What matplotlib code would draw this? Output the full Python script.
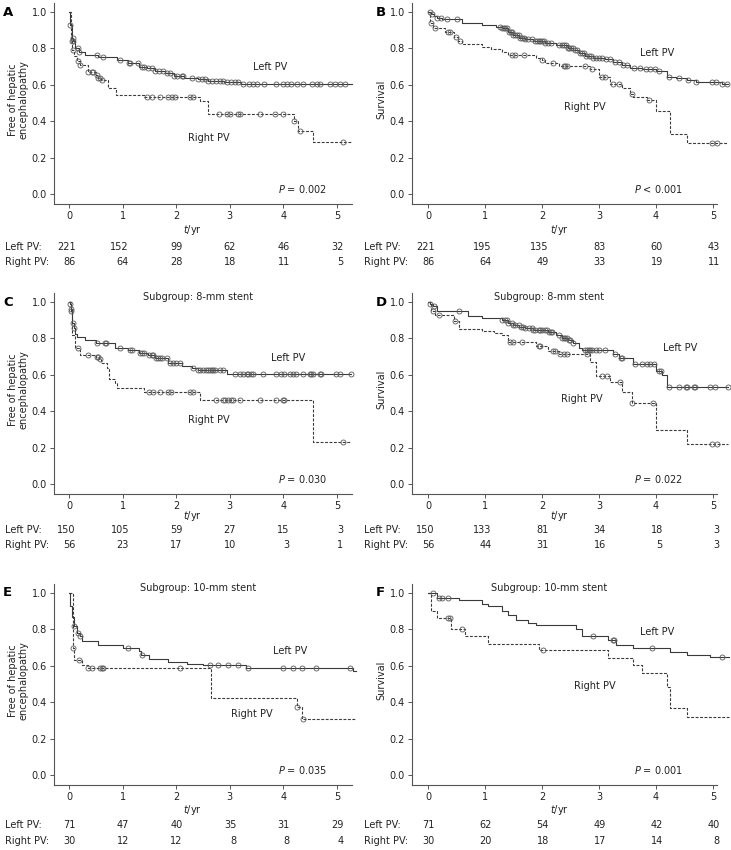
import numpy as np
import matplotlib
matplotlib.use("Agg")
import matplotlib.pyplot as plt
from matplotlib.transforms import blended_transform_factory

W, H = 731, 850
plt.rcParams["font.family"] = "DejaVu Sans"
plt.rcParams["font.size"] = 7
plt.rcParams["mathtext.fontset"] = "dejavusans"

# ---- Kaplan-Meier curves: step times (yr), survival values, censor times, last follow-up ----
# A: free of hepatic encephalopathy, all patients
A_left_t = [0, 0.01, 0.02, 0.05, 0.08, 0.12, 0.18, 0.3, 0.55, 0.9, 1.1, 1.3, 1.45, 1.6, 1.8, 1.95, 2.15, 2.4, 2.6, 2.9, 3.2]
A_left_s = [1.0, 0.97, 0.93, 0.86, 0.84, 0.80, 0.78, 0.766, 0.755, 0.738, 0.72, 0.70, 0.69, 0.675, 0.665, 0.65, 0.64, 0.633, 0.623, 0.615, 0.604]
A_left_c = [0.02, 0.07, 0.08, 0.16, 0.19, 0.52, 0.64, 0.95, 1.11, 1.14, 1.29, 1.36, 1.39, 1.48, 1.54, 1.6, 1.67, 1.76,
            1.82, 1.88, 1.95, 2.01, 2.1, 2.13, 2.29, 2.41, 2.48, 2.54, 2.6, 2.66, 2.75, 2.82, 2.88, 2.94, 3.03, 3.1,
            3.16, 3.25, 3.35, 3.44, 3.5, 3.63, 3.87, 4.0, 4.06, 4.15, 4.25, 4.37, 4.53, 4.62, 4.68, 4.87, 4.96, 5.06, 5.15]
A_left_end = 5.28
A_right_t = [0, 0.03, 0.06, 0.1, 0.15, 0.2, 0.35, 0.5, 0.55, 0.6, 0.72, 0.88, 1.4, 2.45, 2.6, 4.2, 4.28, 4.55]
A_right_s = [1.0, 0.84, 0.79, 0.756, 0.73, 0.707, 0.668, 0.656, 0.637, 0.628, 0.582, 0.546, 0.531, 0.509, 0.44, 0.40, 0.344, 0.286]
A_right_c = [0.05, 0.07, 0.17, 0.2, 0.36, 0.42, 0.45, 0.52, 0.55, 0.58, 0.61, 1.45, 1.54, 1.7, 1.85, 1.92, 1.98, 2.26,
             2.32, 2.79, 2.94, 3.0, 3.16, 3.19, 3.56, 3.84, 4.0, 4.2, 4.31, 5.12]
A_right_end = 5.28

# B: survival, all patients
B_left_t = [0, 0.06, 0.1, 0.16, 0.25, 0.6, 0.95, 1.2, 1.3, 1.4, 1.5, 1.6, 1.7, 1.85, 2.05, 2.25, 2.45, 2.55, 2.65,
            2.75, 2.9, 3.1, 3.25, 3.4, 3.55, 3.75, 4.0, 4.2, 4.35, 4.55, 4.7, 5.15]
B_left_s = [1.0, 0.99, 0.98, 0.97, 0.96, 0.94, 0.93, 0.92, 0.91, 0.89, 0.875, 0.86, 0.85, 0.84, 0.83, 0.82, 0.80, 0.79,
            0.775, 0.76, 0.75, 0.74, 0.725, 0.71, 0.695, 0.685, 0.675, 0.645, 0.635, 0.625, 0.615, 0.605]
B_left_c = [0.04, 0.07, 0.16, 0.22, 0.33, 0.51, 1.27, 1.3, 1.33, 1.36, 1.39, 1.42, 1.45, 1.48, 1.5, 1.53, 1.56, 1.59,
            1.62, 1.65, 1.68, 1.71, 1.76, 1.82, 1.88, 1.91, 1.94, 1.97, 2.0, 2.03, 2.06, 2.1, 2.15, 2.3, 2.35, 2.38,
            2.42, 2.45, 2.48, 2.51, 2.54, 2.58, 2.62, 2.66, 2.7, 2.74, 2.78, 2.82, 2.86, 2.9, 2.95, 3.0, 3.05, 3.12,
            3.2, 3.28, 3.35, 3.42, 3.5, 3.62, 3.72, 3.82, 3.9, 3.98, 4.05, 4.22, 4.4, 4.57, 4.7, 4.98, 5.05, 5.16, 5.25]
B_left_end = 5.26
B_right_t = [0, 0.03, 0.08, 0.3, 0.45, 0.52, 0.6, 0.95, 1.1, 1.3, 1.4, 1.9, 2.0, 2.05, 2.3, 2.85, 3.0, 3.2, 3.4,
             3.55, 3.6, 3.85, 4.0, 4.25, 4.55]
B_right_s = [1.0, 0.94, 0.915, 0.89, 0.865, 0.84, 0.825, 0.81, 0.795, 0.78, 0.765, 0.75, 0.735, 0.72, 0.705, 0.685,
             0.645, 0.605, 0.58, 0.55, 0.535, 0.515, 0.455, 0.33, 0.28]
B_right_c = [0.05, 0.12, 0.36, 0.39, 0.5, 0.57, 1.47, 1.53, 1.68, 2.0, 2.2, 2.38, 2.41, 2.44, 2.76, 2.88, 3.05, 3.1,
             3.25, 3.35, 3.58, 3.87, 4.98, 5.07]
B_right_end = 5.27

# C: free of HE, 8-mm stent
C_left_t = [0, 0.01, 0.03, 0.06, 0.09, 0.11, 0.15, 0.3, 0.5, 0.85, 1.1, 1.3, 1.48, 1.6, 1.85, 2.1, 2.3, 2.4, 2.95]
C_left_s = [1.0, 0.99, 0.96, 0.885, 0.86, 0.825, 0.81, 0.79, 0.775, 0.75, 0.735, 0.72, 0.71, 0.69, 0.665, 0.646,
            0.637, 0.625, 0.605]
C_left_c = [0.01, 0.03, 0.07, 0.09, 0.52, 0.67, 0.69, 0.95, 1.14, 1.17, 1.32, 1.36, 1.39, 1.5, 1.54, 1.57, 1.63, 1.66,
            1.7, 1.73, 1.82, 1.88, 1.94, 2.0, 2.07, 2.32, 2.41, 2.44, 2.5, 2.56, 2.6, 2.63, 2.66, 2.69, 2.72, 2.81,
            2.88, 3.09, 3.19, 3.25, 3.32, 3.34, 3.4, 3.43, 3.62, 3.87, 3.96, 4.02, 4.12, 4.18, 4.24, 4.37, 4.49,
            4.52, 4.55, 4.68, 4.71, 4.99, 5.05, 5.27]
C_left_end = 5.27
C_right_t = [0, 0.03, 0.06, 0.12, 0.2, 0.5, 0.56, 0.6, 0.7, 0.75, 0.85, 0.9, 1.4, 2.45, 4.55]
C_right_s = [1.0, 0.95, 0.82, 0.75, 0.71, 0.70, 0.685, 0.665, 0.637, 0.576, 0.554, 0.527, 0.505, 0.462, 0.232]
C_right_c = [0.03, 0.17, 0.36, 0.52, 0.55, 0.58, 1.5, 1.57, 1.7, 1.85, 1.91, 2.25, 2.32, 2.75, 2.87, 2.91, 2.97,
             3.03, 3.06, 3.19, 3.56, 3.87, 3.99, 4.02, 5.11]
C_right_end = 5.27

# D: survival, 8-mm stent
D_left_t = [0, 0.03, 0.08, 0.15, 0.7, 0.95, 1.3, 1.4, 1.5, 1.6, 1.7, 1.85, 2.1, 2.25, 2.35, 2.45, 2.55, 2.65, 2.7,
            3.25, 3.35, 3.6, 4.0, 4.1, 4.2]
D_left_s = [1.0, 0.99, 0.98, 0.95, 0.925, 0.91, 0.90, 0.885, 0.875, 0.865, 0.855, 0.845, 0.835, 0.82, 0.805, 0.79,
            0.775, 0.75, 0.735, 0.714, 0.69, 0.661, 0.623, 0.60, 0.532]
D_left_c = [0.04, 0.1, 0.54, 1.3, 1.35, 1.38, 1.41, 1.47, 1.5, 1.53, 1.59, 1.64, 1.67, 1.71, 1.77, 1.82, 1.85, 1.88,
            1.94, 1.97, 2.0, 2.06, 2.09, 2.12, 2.15, 2.18, 2.29, 2.35, 2.38, 2.41, 2.44, 2.47, 2.5, 2.55, 2.76, 2.79,
            2.82, 2.85, 2.88, 2.94, 3.0, 3.11, 3.28, 3.38, 3.41, 3.64, 3.76, 3.84, 3.9, 3.96, 4.05, 4.08, 4.22, 4.4,
            4.52, 4.54, 4.66, 4.69, 4.95, 5.04, 5.27]
D_left_end = 5.27
D_right_t = [0, 0.05, 0.12, 0.45, 0.55, 0.95, 1.15, 1.3, 1.4, 1.9, 2.1, 2.3, 2.85, 2.95, 3.2, 3.4, 3.58, 4.0, 4.55]
D_right_s = [1.0, 0.95, 0.927, 0.894, 0.854, 0.84, 0.832, 0.818, 0.78, 0.76, 0.732, 0.714, 0.672, 0.596, 0.56,
             0.505, 0.446, 0.295, 0.219]
D_right_c = [0.08, 0.19, 0.48, 1.44, 1.5, 1.65, 1.94, 1.97, 2.2, 2.23, 2.32, 2.38, 2.44, 2.79, 3.05, 3.14, 3.37,
             3.58, 3.95, 4.98, 5.07]
D_right_end = 5.27

# E: free of HE, 10-mm stent
E_left_t = [0, 0.02, 0.05, 0.1, 0.15, 0.2, 0.25, 0.55, 1.0, 1.3, 1.35, 1.5, 1.85, 2.2, 2.5, 3.3, 5.3]
E_left_s = [1.0, 0.93, 0.87, 0.82, 0.78, 0.765, 0.735, 0.713, 0.70, 0.68, 0.662, 0.64, 0.622, 0.609, 0.605, 0.59, 0.57]
E_left_c = [0.1, 0.17, 0.2, 1.1, 1.36, 2.63, 2.78, 2.97, 3.16, 3.34, 4.0, 4.18, 4.34, 4.61, 5.24]
E_left_end = 5.36
E_right_t = [0, 0.07, 0.1, 0.25, 0.35, 2.65, 4.25, 4.35]
E_right_s = [1.0, 0.70, 0.63, 0.607, 0.59, 0.424, 0.375, 0.31]
E_right_c = [0.07, 0.19, 0.36, 0.42, 0.58, 0.61, 0.64, 2.07, 4.26, 4.37]
E_right_end = 5.36

# F: survival, 10-mm stent
F_left_t = [0, 0.15, 0.55, 0.95, 1.05, 1.3, 1.4, 1.55, 1.75, 1.9, 2.6, 2.7, 3.15, 3.3, 3.6, 4.25, 4.55, 4.95]
F_left_s = [1.0, 0.973, 0.963, 0.94, 0.929, 0.90, 0.878, 0.854, 0.837, 0.823, 0.80, 0.762, 0.74, 0.713, 0.698,
            0.676, 0.662, 0.649]
F_left_c = [0.09, 0.2, 0.25, 0.35, 2.9, 3.24, 3.27, 3.93, 5.15]
F_left_end = 5.28
F_right_t = [0, 0.05, 0.15, 0.4, 0.65, 1.05, 1.95, 3.15, 3.6, 3.75, 4.2, 4.25, 4.55]
F_right_s = [1.0, 0.90, 0.863, 0.80, 0.762, 0.722, 0.686, 0.643, 0.607, 0.563, 0.484, 0.366, 0.32]
F_right_c = [0.35, 0.38, 0.59, 2.02]
F_right_end = 5.28

# ---- numbers at risk ----
risk_times = [0, 1, 2, 3, 4, 5]
A_risk_left = [221, 152, 99, 62, 46, 32]
A_risk_right = [86, 64, 28, 18, 11, 5]
B_risk_left = [221, 195, 135, 83, 60, 43]
B_risk_right = [86, 64, 49, 33, 19, 11]
C_risk_left = [150, 105, 59, 27, 15, 3]
C_risk_right = [56, 23, 17, 10, 3, 1]
D_risk_left = [150, 133, 81, 34, 18, 3]
D_risk_right = [56, 44, 31, 16, 5, 3]
E_risk_left = [71, 47, 40, 35, 31, 29]
E_risk_right = [30, 12, 12, 8, 8, 4]
F_risk_left = [71, 62, 54, 49, 42, 40]
F_risk_right = [30, 20, 18, 17, 14, 8]

p_values = {"A": "= 0.002", "B": "< 0.001", "C": "= 0.030", "D": "= 0.022", "E": "= 0.035", "F": "= 0.001"}
subtitles = {"A": None, "B": None, "C": "Subgroup: 8-mm stent", "D": "Subgroup: 8-mm stent",
             "E": "Subgroup: 10-mm stent", "F": "Subgroup: 10-mm stent"}

LINE = "#3a3a3a"
CENS = "#5a5a5a"
TXT = "#222222"

fig = plt.figure(figsize=(W / 100, H / 100), dpi=100)


def px_axes(l, r, t, b):
    return fig.add_axes([l / W, 1 - b / H, (r - l) / W, (b - t) / H])


def fy(y):
    return 1 - y / H


def km(ax, t, s, c, end, dashed):
    t = np.asarray(t)
    s = np.asarray(s)
    ls = (0, (2.6, 1.4)) if dashed else "-"
    ax.step(np.append(t, end), np.append(s, s[-1]), where="post", color=LINE, lw=0.8,
            ls=ls, clip_on=False, zorder=2)
    c = np.asarray(c)
    cy = s[np.searchsorted(t, c, side="right") - 1]
    ax.plot(c, cy, "o", ms=3.6, mfc="none", mec=CENS, mew=0.6, clip_on=False, zorder=3)


# layout per panel: key, (l, r, t, b) px, xlim right, letter x px, risk label x px,
# (tick, xlabel, row1, row2) y px, curves, risk numbers, label positions
panels = [
    ("A", (54, 352, 3, 204), 5.28, 3, 5, (215, 230, 247, 262),
     (A_left_t, A_left_s, A_left_c, A_left_end), (A_right_t, A_right_s, A_right_c, A_right_end),
     A_risk_left, A_risk_right, (3.75, 0.70), (2.6, 0.31)),
    ("B", (412, 717, 3, 204), 5.07, 376, 364, (215, 230, 247, 262),
     (B_left_t, B_left_s, B_left_c, B_left_end), (B_right_t, B_right_s, B_right_c, B_right_end),
     B_risk_left, B_risk_right, (4.02, 0.775), (2.75, 0.48)),
    ("C", (54, 352, 293, 494), 5.28, 3, 5, (506, 516, 530, 545),
     (C_left_t, C_left_s, C_left_c, C_left_end), (C_right_t, C_right_s, C_right_c, C_right_end),
     C_risk_left, C_risk_right, (4.09, 0.69), (2.6, 0.35)),
    ("D", (412, 717, 293, 494), 5.07, 376, 364, (506, 516, 530, 545),
     (D_left_t, D_left_s, D_left_c, D_left_end), (D_right_t, D_right_s, D_right_c, D_right_end),
     D_risk_left, D_risk_right, (4.42, 0.75), (2.7, 0.47)),
    ("E", (54, 352, 584, 785), 5.28, 3, 5, (796, 810, 825, 841),
     (E_left_t, E_left_s, E_left_c, E_left_end), (E_right_t, E_right_s, E_right_c, E_right_end),
     E_risk_left, E_risk_right, (4.12, 0.68), (3.41, 0.335)),
    ("F", (412, 717, 584, 785), 5.07, 376, 364, (796, 810, 825, 841),
     (F_left_t, F_left_s, F_left_c, F_left_end), (F_right_t, F_right_s, F_right_c, F_right_end),
     F_risk_left, F_risk_right, (4.02, 0.785), (2.93, 0.49)),
]

for (key, box, xr, let_x, lab_x, rows, left, right, rl, rr, lpos, rpos) in panels:
    ax = px_axes(*box)
    ax.set_xlim(-0.28, xr)
    ax.set_ylim(-0.055, 1.05)
    for sp in ("top", "right"):
        ax.spines[sp].set_visible(False)
    for sp in ("left", "bottom"):
        ax.spines[sp].set_color("#555555")
        ax.spines[sp].set_linewidth(0.8)
    ax.set_xticks(risk_times)
    ax.set_yticks([0, 0.2, 0.4, 0.6, 0.8, 1.0])
    ax.set_yticklabels(["0.0", "0.2", "0.4", "0.6", "0.8", "1.0"])
    ax.tick_params(direction="out", length=3, width=0.7, color="#555555", labelsize=7,
                   labelcolor=TXT, pad=2)

    km(ax, *left, dashed=False)
    km(ax, *right, dashed=True)

    ax.text(*lpos, "Left PV", ha="center", va="center", color=TXT)
    ax.text(*rpos, "Right PV", ha="center", va="center", color=TXT)
    ax.text(4.82 if xr > 5.2 else 4.48, 0.03, "$P$ " + p_values[key], ha="right", va="center", color=TXT)
    if subtitles[key]:
        ax.text(2.4 if xr > 5.2 else 2.12, 1.03, subtitles[key], ha="center", va="center", color=TXT)

    if key in ("A", "C", "E"):
        ax.set_ylabel("Free of hepatic\nencephalopathy", color=TXT, linespacing=1.1)
        ax.yaxis.set_label_coords(-0.085, 0.52)
    else:
        ax.set_ylabel("Survival", color=TXT)
        ax.yaxis.set_label_coords(-0.085, 0.52)

    fig.text(let_x / W, fy(box[2] + 9), key, fontsize=9.5, fontweight="bold", ha="left", va="center")

    tr = blended_transform_factory(ax.transData, fig.transFigure)
    ax.text(2.3, fy(rows[1]), "$t$/yr", transform=tr, ha="center", va="center", color=TXT)
    fig.text(lab_x / W, fy(rows[2]), "Left PV:", ha="left", va="center", color=TXT)
    fig.text(lab_x / W, fy(rows[3]), "Right PV:", ha="left", va="center", color=TXT)
    for tt, nl, nr in zip(risk_times, rl, rr):
        ax.text(tt + 0.12, fy(rows[2]), str(nl), transform=tr, ha="right", va="center", color=TXT)
        ax.text(tt + 0.12, fy(rows[3]), str(nr), transform=tr, ha="right", va="center", color=TXT)

fig.savefig("out.png", dpi=100, facecolor="white")
